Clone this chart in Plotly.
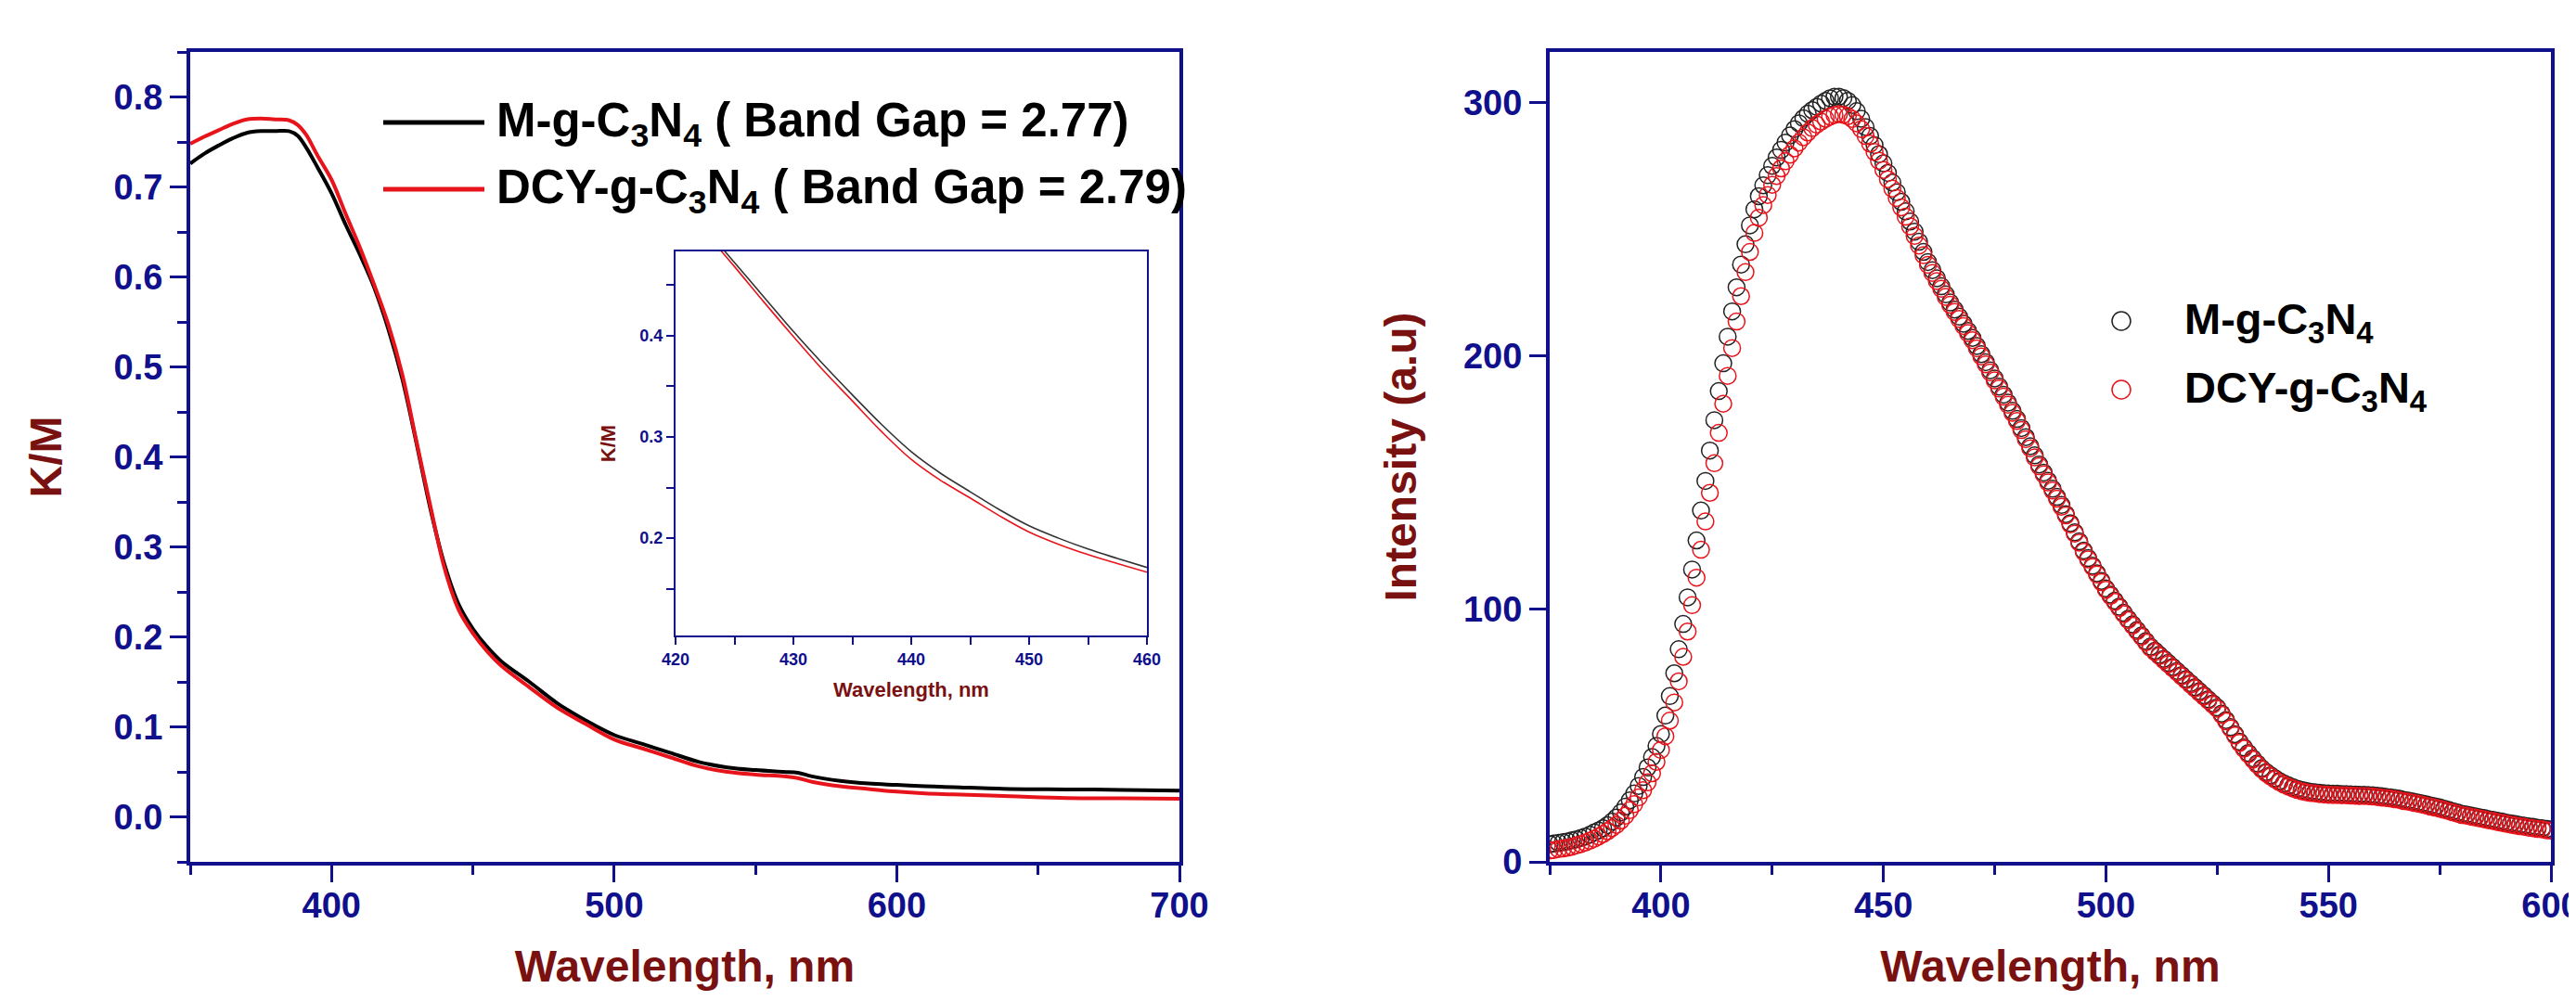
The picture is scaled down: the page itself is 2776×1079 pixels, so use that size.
import plotly.graph_objects as go

# target page size; the browser adds an 8px body margin around the plot div
W, H = 2776, 1079
OFF = 8
FW, FH = W - 2 * OFF, H - 2 * OFF

# ---------------- Left panel: K/M vs wavelength ----------------
uv_wl = [350, 355, 360, 365, 370, 375, 380, 385, 388, 391, 395, 400, 405, 410, 415,
         420, 425, 430, 435, 440, 445, 450, 455, 460, 470, 480, 490, 500, 510, 520,
         530, 540, 550, 560, 565, 570, 580, 590, 600, 610, 620, 640, 660, 680, 700]
km_m = [0.726, 0.737, 0.746, 0.754, 0.760, 0.762, 0.762, 0.762, 0.757, 0.744, 0.722,
        0.693, 0.658, 0.625, 0.589, 0.543, 0.487, 0.416, 0.342, 0.280, 0.236, 0.209,
        0.189, 0.173, 0.150, 0.126, 0.107, 0.091, 0.081, 0.071, 0.061, 0.055, 0.052,
        0.050, 0.049, 0.045, 0.040, 0.037, 0.0355, 0.034, 0.033, 0.031, 0.0305, 0.030, 0.029]
km_dcy = [0.748, 0.756, 0.763, 0.770, 0.775, 0.776, 0.775, 0.774, 0.769, 0.758, 0.735,
          0.708, 0.670, 0.633, 0.592, 0.548, 0.492, 0.418, 0.345, 0.276, 0.230, 0.204,
          0.184, 0.168, 0.144, 0.121, 0.103, 0.086, 0.076, 0.066, 0.056, 0.050, 0.047,
          0.045, 0.043, 0.039, 0.034, 0.031, 0.028, 0.026, 0.025, 0.023, 0.021, 0.0205, 0.020]

# Inset (zoom 420-460 nm)
inset_wl = [420, 422.5, 425, 427.5, 430, 432.5, 435, 437.5, 440, 442.5, 445, 447.5,
            450, 452.5, 455, 457.5, 460]
inset_m = [0.540, 0.506, 0.472, 0.438, 0.404, 0.372, 0.3415, 0.312, 0.2854, 0.264,
           0.2458, 0.228, 0.2122, 0.200, 0.1893, 0.180, 0.1711]
inset_dcy = [0.535, 0.502, 0.468, 0.433, 0.399, 0.366, 0.3355, 0.305, 0.2778, 0.257,
             0.2397, 0.222, 0.2061, 0.194, 0.1838, 0.175, 0.1665]

# ---------------- Right panel: PL intensity ----------------
pl_wl = list(range(375, 601))
pl_m = [
    7.0, 7.2, 7.5, 7.8, 8.1, 8.5, 8.9, 9.4, 10.0, 10.7,
    11.6, 12.4, 13.3, 14.5, 15.9, 17.5, 19.5, 21.8, 24.3, 27.0,
    30.0, 33.5, 37.3, 41.4, 45.8, 50.5, 57.8, 65.5, 74.5, 84.0,
    94.0, 104.5, 115.5, 127.0, 138.8, 150.5, 162.5, 174.5, 186.0, 197.0,
    207.5, 217.5, 227.0, 236.0, 244.0, 251.5, 257.8, 263.0, 267.3, 271.3,
    275.0, 278.3, 281.3, 284.2, 287.0, 289.5, 291.8, 293.8, 295.6, 297.0,
    298.3, 299.6, 300.7, 301.7, 302.3, 302.3, 301.8, 300.7, 299.0, 296.6,
    293.6, 290.3, 286.8, 283.2, 279.6, 276.0, 272.2, 268.4, 264.6, 260.8,
    257.0, 253.0, 249.0, 245.0, 241.0, 237.0, 233.8, 230.6, 227.4, 224.2,
    221.0, 218.2, 215.4, 212.6, 209.8, 207.0, 203.8, 200.6, 197.4, 194.2,
    191.0, 187.8, 184.6, 181.4, 178.2, 175.0, 171.4, 167.8, 164.2, 160.6,
    157.0, 153.8, 150.6, 147.4, 144.2, 141.0, 137.4, 133.8, 130.2, 126.6,
    123.0, 120.0, 117.0, 114.0, 111.0, 108.0, 105.6, 103.2, 100.8, 98.4,
    96.0, 93.8, 91.6, 89.4, 87.2, 85.0, 83.4, 81.8, 80.2, 78.6,
    77.0, 75.4, 73.8, 72.2, 70.6, 69.0, 67.4, 65.8, 64.2, 62.6,
    61.0, 58.6, 56.0, 53.2, 50.4, 47.5, 45.2, 43.0, 40.9, 38.9,
    37.0, 35.5, 34.2, 33.0, 31.9, 31.0, 30.2, 29.5, 28.9, 28.4,
    28.0, 27.7, 27.5, 27.3, 27.1, 27.0, 26.9, 26.9, 26.8, 26.8,
    26.7, 26.6, 26.5, 26.5, 26.4, 26.3, 26.1, 25.9, 25.7, 25.5,
    25.2, 24.9, 24.5, 24.2, 23.8, 23.5, 23.1, 22.7, 22.3, 21.9,
    21.5, 21.0, 20.5, 20.0, 19.5, 19.0, 18.7, 18.3, 18.0, 17.6,
    17.3, 16.9, 16.6, 16.2, 15.9, 15.5, 15.2, 14.9, 14.6, 14.3,
    14.0, 13.8, 13.5, 13.3, 13.0, 12.8]
pl_dcy = [
    4.5, 4.7, 5.0, 5.3, 5.6, 6.0, 6.5, 7.0, 7.6, 8.3,
    9.1, 10.0, 11.0, 12.1, 13.3, 14.6, 16.3, 18.2, 20.4, 22.8,
    25.5, 28.3, 31.4, 35.0, 39.5, 44.2, 49.6, 55.8, 63.0, 71.3,
    81.0, 91.0, 101.4, 112.3, 123.3, 134.5, 145.8, 157.5, 169.5, 181.0,
    192.0, 203.0, 213.5, 223.5, 233.0, 241.0, 248.5, 254.5, 259.5, 263.5,
    267.5, 271.0, 274.0, 276.8, 279.4, 281.9, 284.2, 286.3, 288.2, 289.9,
    291.3, 292.5, 293.6, 294.5, 295.1, 295.4, 295.2, 294.6, 293.5, 291.8,
    289.5, 286.8, 283.8, 280.5, 277.0, 273.4, 269.7, 266.0, 262.3, 258.6,
    254.9, 251.1, 247.3, 243.5, 239.7, 235.9, 232.7, 229.5, 226.4, 223.2,
    220.1, 217.3, 214.5, 211.7, 208.9, 206.1, 202.9, 199.7, 196.6, 193.4,
    190.2, 187.0, 183.8, 180.6, 177.4, 174.2, 170.6, 167.0, 163.4, 159.8,
    156.3, 153.1, 149.9, 146.7, 143.5, 140.3, 136.9, 133.3, 129.7, 126.1,
    122.5, 119.5, 116.5, 113.5, 110.5, 107.5, 105.1, 102.7, 100.3, 97.9,
    95.5, 93.3, 91.1, 88.9, 86.7, 84.5, 82.9, 81.3, 79.7, 78.1,
    76.5, 74.9, 73.3, 71.7, 70.1, 68.5, 66.9, 65.3, 63.7, 62.1,
    60.5, 58.1, 55.5, 52.7, 49.9, 47.0, 44.7, 42.5, 40.4, 38.4,
    36.5, 35.0, 33.7, 32.5, 31.4, 30.5, 29.7, 29.0, 28.4, 27.9,
    27.5, 27.2, 27.0, 26.8, 26.6, 26.5, 26.4, 26.4, 26.3, 26.3,
    26.2, 26.1, 26.0, 26.0, 25.9, 25.8, 25.6, 25.4, 25.2, 25.0,
    24.7, 24.4, 24.0, 23.7, 23.3, 23.0, 22.6, 22.2, 21.8, 21.4,
    21.0, 20.5, 20.0, 19.5, 19.0, 18.5, 18.2, 17.8, 17.5, 17.1,
    16.8, 16.4, 16.1, 15.7, 15.4, 15.0, 14.7, 14.4, 14.1, 13.8,
    13.5, 13.3, 13.0, 12.8, 12.5, 12.3]

series_names = ["M-g-C<sub>3</sub>N<sub>4</sub>", "DCY-g-C<sub>3</sub>N<sub>4</sub>"]
band_gaps = ["2.77", "2.79"]

# ---------------- styling ----------------
FONT = "Liberation Sans, Arial, sans-serif"
NAVY = "#10108C"
MAROON = "#7A1111"
BLACK = "#000000"
RED = "#E8141B"


def px_x(v):
    """page pixel -> paper fraction"""
    return (v - OFF) / FW


def px_y(v):
    return 1 - (v - OFF) / FH


fig = go.Figure()

# main UV-vis lines
fig.add_trace(go.Scatter(x=uv_wl, y=km_m, mode="lines", name=series_names[0],
                         line=dict(color=BLACK, width=4, shape="spline"),
                         xaxis="x", yaxis="y", showlegend=False))
fig.add_trace(go.Scatter(x=uv_wl, y=km_dcy, mode="lines", name=series_names[1],
                         line=dict(color=RED, width=4, shape="spline"),
                         xaxis="x", yaxis="y", showlegend=False))
# inset lines
fig.add_trace(go.Scatter(x=inset_wl, y=inset_m, mode="lines",
                         line=dict(color="#333333", width=1.6, shape="spline"),
                         xaxis="x3", yaxis="y3", showlegend=False))
fig.add_trace(go.Scatter(x=inset_wl, y=inset_dcy, mode="lines",
                         line=dict(color=RED, width=1.6, shape="spline"),
                         xaxis="x3", yaxis="y3", showlegend=False))
# PL markers
fig.add_trace(go.Scatter(x=pl_wl, y=pl_m, mode="markers", name=series_names[0],
                         marker=dict(symbol="circle-open", size=18, color="#222222",
                                     line=dict(width=1.5)),
                         xaxis="x2", yaxis="y2", showlegend=False))
fig.add_trace(go.Scatter(x=pl_wl, y=pl_dcy, mode="markers", name=series_names[1],
                         marker=dict(symbol="circle-open", size=18, color=RED,
                                     line=dict(width=1.5)),
                         xaxis="x2", yaxis="y2", showlegend=False))


def axis(big=True, **kw):
    if big:
        d = dict(showline=True, linecolor=NAVY, linewidth=4, mirror=True,
                 ticks="outside", tickcolor=NAVY, tickwidth=3, ticklen=18,
                 tickfont=dict(family=FONT, size=38, color=NAVY, weight="bold"),
                 showgrid=False, zeroline=False, automargin=False)
    else:
        d = dict(showline=True, linecolor=NAVY, linewidth=2, mirror=True,
                 ticks="outside", tickcolor=NAVY, tickwidth=1.5, ticklen=8,
                 tickfont=dict(family=FONT, size=18, color=NAVY, weight="bold"),
                 showgrid=False, zeroline=False, automargin=False)
    d.update(kw)
    return d


def title(text, size, standoff):
    return dict(text=text, standoff=standoff,
                font=dict(family=FONT, size=size, color=MAROON, weight="bold"))


minor_big = lambda dt: dict(dtick=dt, ticks="outside", ticklen=10, tickwidth=3, tickcolor=NAVY)
minor_small = lambda dt: dict(dtick=dt, ticks="outside", ticklen=8, tickwidth=1.5, tickcolor=NAVY)

Y0, Y1 = px_y(929), px_y(56)

fig.update_layout(
    width=FW, height=FH,
    margin=dict(l=0, r=0, t=0, b=0, autoexpand=False),
    paper_bgcolor="white", plot_bgcolor="white",
    showlegend=False,
    xaxis=axis(domain=[px_x(205), px_x(1271)], range=[350, 700], tick0=0, dtick=100,
               minor=minor_big(50), anchor="y", ticklabelstandoff=-8,
               title=title("Wavelength, nm", 48, 30)),
    yaxis=axis(domain=[Y0, Y1], range=[-0.05, 0.85], tick0=0, dtick=0.1,
               tickformat=".1f", minor=minor_big(0.05), anchor="x",
               title=title("K/M", 48, 42)),
    xaxis2=axis(domain=[px_x(1670), px_x(2749)], range=[375, 600], tick0=0, dtick=50,
                minor=minor_big(25), anchor="y2", ticklabelstandoff=-8,
                ticklabeloverflow="allow",
                title=title("Wavelength, nm", 48, 30)),
    yaxis2=axis(domain=[Y0, Y1], range=[0, 320], tick0=0, dtick=100, anchor="x2",
                title=title("Intensity (a.u)", 48, 36)),
    xaxis3=axis(big=False, domain=[px_x(728), px_x(1236)], range=[420, 460], tick0=0,
                dtick=10, minor=minor_small(5), anchor="y3",
                title=title("Wavelength, nm", 22, 16)),
    yaxis3=axis(big=False, domain=[px_y(685), px_y(271)], range=[0.104, 0.483], tick0=0,
                dtick=0.1, tickformat=".1f", minor=minor_small(0.05), anchor="x3",
                title=title("K/M", 22, 20)),
)

# ---------------- custom legends ----------------
shapes = []
annotations = []

# left legend (line samples)
left_font = dict(family=FONT, size=51, color="black", weight="bold")
for i, (col, yy) in enumerate([(BLACK, 132), (RED, 204)]):
    shapes.append(dict(type="line", xref="paper", yref="paper",
                       x0=px_x(413), x1=px_x(522), y0=px_y(yy), y1=px_y(yy),
                       line=dict(color=col, width=5)))
    annotations.append(dict(xref="paper", yref="paper", x=px_x(533), y=px_y(yy + 1),
                            xanchor="left", yanchor="middle", showarrow=False,
                            text=f"{series_names[i]} ( Band Gap = {band_gaps[i]})",
                            font=left_font))

# right legend (open circles)
right_font = dict(family=FONT, size=47, color="black", weight="bold")
for i, (col, yy) in enumerate([("#222222", 346), (RED, 420)]):
    shapes.append(dict(type="circle", xref="paper", yref="paper",
                       x0=px_x(2276), x1=px_x(2296), y0=px_y(yy + 10), y1=px_y(yy - 10),
                       line=dict(color=col, width=1.5), fillcolor="rgba(0,0,0,0)"))
    annotations.append(dict(xref="paper", yref="paper", x=px_x(2352), y=px_y(yy + 1),
                            xanchor="left", yanchor="middle", showarrow=False,
                            text=series_names[i], font=right_font))

fig.update_layout(shapes=shapes, annotations=annotations)

fig.write_html("out.html")
